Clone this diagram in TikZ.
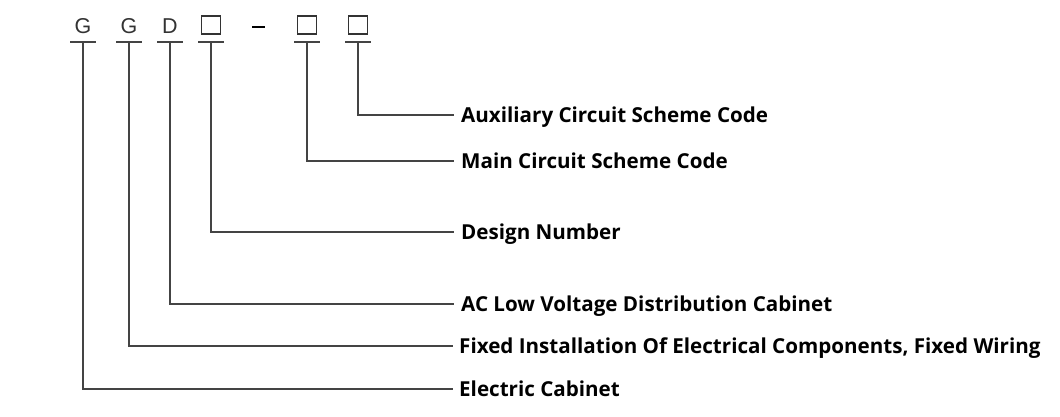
\documentclass[tikz,border=0pt]{standalone}
\usepackage{fontspec}
\setmainfont{Open Sans}
\newfontfamily\codefont{Liberation Sans}
\definecolor{ln}{HTML}{444444}
\definecolor{tx}{HTML}{333333}
\begin{document}
\begin{tikzpicture}[x=1pt,y=-1pt,
  lbl/.style={anchor=base west,inner sep=0pt,font=\fontsize{20.6}{23}\selectfont\bfseries,text=black},
  code/.style={anchor=base,inner sep=0pt,font=\codefont\fontsize{21.5}{24}\selectfont,text=tx},
  sq/.style={draw=tx,line width=1.1pt,minimum width=19pt,minimum height=18pt,inner sep=0pt},
  bar/.style={draw=ln,line width=1.4pt},
  conn/.style={draw=ln,line width=1.4pt}]
\useasboundingbox (0,0) rectangle (1060,416);
% codes
\node[code] (c1) at (83,33) {G};
\node[code] (c2) at (129,33) {G};
\node[code] (c3) at (170,33) {D};
\node[sq] (c4) at (211,25) {};
\node[draw=none,fill=black,minimum width=13pt,minimum height=2.6pt,inner sep=0pt] (dash) at (258,27) {};
\node[sq] (c5) at (307,25) {};
\node[sq] (c6) at (358,25) {};
% underlines
\foreach \n/\x in {u1/83,u2/129,u3/170,u4/211,u5/307,u6/358}{
  \coordinate (\n) at (\x,42);
  \draw[bar] (\x-13,42) -- (\x+13,42);
}
% labels (base line = connector level + 7)
\node[lbl] (l6) at (461,122) {Auxiliary Circuit Scheme Code};
\node[lbl] (l5) at (461,168) {Main Circuit Scheme Code};
\node[lbl] (l4) at (461,239) {Design Number};
\node[lbl] (l3) at (461,311) {AC Low Voltage Distribution Cabinet};
\node[lbl] (l2) at (459,353) {Fixed Installation Of Electrical Components, Fixed Wiring};
\node[lbl] (l1) at (459,396) {Electric Cabinet};
% connector ends
\coordinate (e6) at (454,115);
\coordinate (e5) at (454,161);
\coordinate (e4) at (454,232);
\coordinate (e3) at (454,304);
\coordinate (e2) at (453,346);
\coordinate (e1) at (453,389);
% connectors
\draw[conn] (u6) |- (e6);
\draw[conn] (u5) |- (e5);
\draw[conn] (u4) |- (e4);
\draw[conn] (u3) |- (e3);
\draw[conn] (u2) |- (e2);
\draw[conn] (u1) |- (e1);
\end{tikzpicture}
\end{document}
